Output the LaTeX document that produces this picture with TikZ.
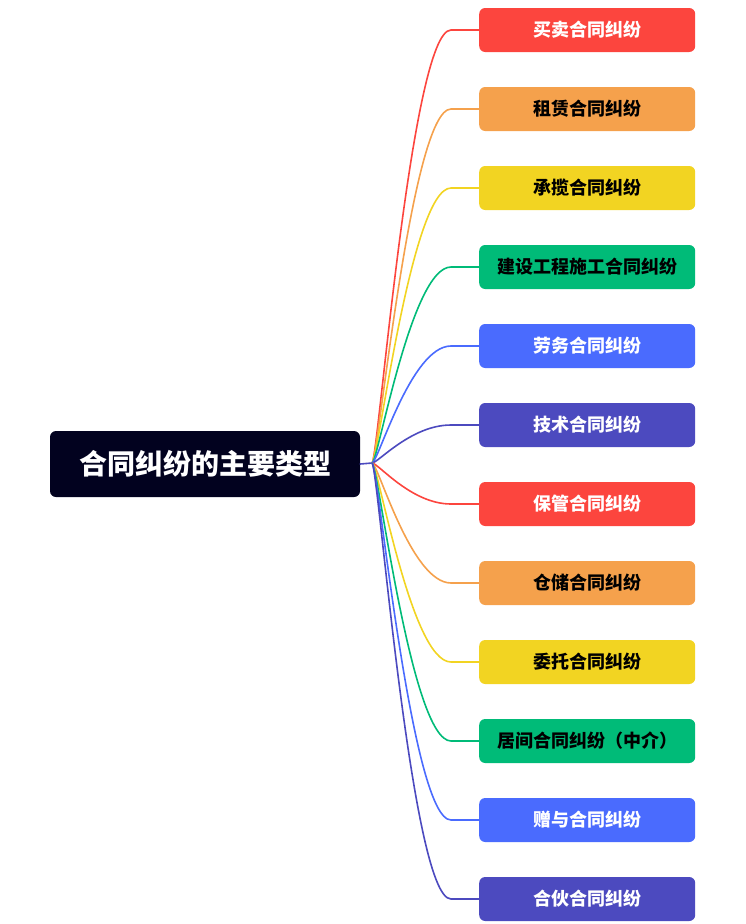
\documentclass[tikz,border=0pt]{standalone}
\usepackage{fontspec}
\newfontfamily\cjk{Noto Sans CJK SC}
\usepackage{tikz}
\usetikzlibrary{calc}

\definecolor{mapred}{HTML}{FC453E}
\definecolor{maporange}{HTML}{F5A14C}
\definecolor{mapyellow}{HTML}{F2D422}
\definecolor{mapgreen}{HTML}{00BB78}
\definecolor{mapblue}{HTML}{4A6BFE}
\definecolor{mapindigo}{HTML}{4C4ABF}
\definecolor{mapnavy}{HTML}{02021F}

\tikzset{
  leaf/.style={draw=none, rounded corners=6, minimum width=216, minimum height=44,
    anchor=west, inner sep=0, font=\cjk\bfseries\fontsize{18}{20}\selectfont},
  branch/.style={line width=1.6, line cap=round}
}

\newcommand{\twig}[2]{%
  \draw[branch, #1] (hub) .. controls ($(hub)+(6,0)$) and ($(#2.west)+(-68,0)$)
    .. ($(#2.west)+(-28,0)$) -- (#2.west);}

\begin{document}
\begin{tikzpicture}[x=1pt, y=-1pt]

\useasboundingbox (0,0) rectangle (746,924);

\def\bx{479}

% root
\node[fill=mapnavy, text=white, rounded corners=6, minimum width=310, minimum height=66,
  inner sep=0, font=\cjk\bfseries\fontsize{28}{32}\selectfont] (root) at (205,464) {合同纠纷的主要类型};
\coordinate (hub) at (372,463);

% branches
\node[leaf, fill=mapred, text=white]      (b1)  at (\bx,30)  {买卖合同纠纷};
\node[leaf, fill=maporange, text=black]   (b2)  at (\bx,109) {租赁合同纠纷};
\node[leaf, fill=mapyellow, text=black]   (b3)  at (\bx,188) {承揽合同纠纷};
\node[leaf, fill=mapgreen, text=black]    (b4)  at (\bx,267) {建设工程施工合同纠纷};
\node[leaf, fill=mapblue, text=white]     (b5)  at (\bx,346) {劳务合同纠纷};
\node[leaf, fill=mapindigo, text=white]   (b6)  at (\bx,425) {技术合同纠纷};
\node[leaf, fill=mapred, text=white]      (b7)  at (\bx,504) {保管合同纠纷};
\node[leaf, fill=maporange, text=black]   (b8)  at (\bx,583) {仓储合同纠纷};
\node[leaf, fill=mapyellow, text=black]   (b9)  at (\bx,662) {委托合同纠纷};
\node[leaf, fill=mapgreen, text=black]    (b10) at (\bx,741) {居间合同纠纷（中介）};
\node[leaf, fill=mapblue, text=white]     (b11) at (\bx,820) {赠与合同纠纷};
\node[leaf, fill=mapindigo, text=white]   (b12) at (\bx,899) {合伙合同纠纷};

\draw[branch, mapindigo] (root.east) -- (hub);

\twig{mapred}{b1}
\twig{maporange}{b2}
\twig{mapyellow}{b3}
\twig{mapgreen}{b4}
\twig{mapblue}{b5}
\twig{mapindigo}{b6}
\twig{mapred}{b7}
\twig{maporange}{b8}
\twig{mapyellow}{b9}
\twig{mapgreen}{b10}
\twig{mapblue}{b11}
\twig{mapindigo}{b12}

\end{tikzpicture}
\end{document}
